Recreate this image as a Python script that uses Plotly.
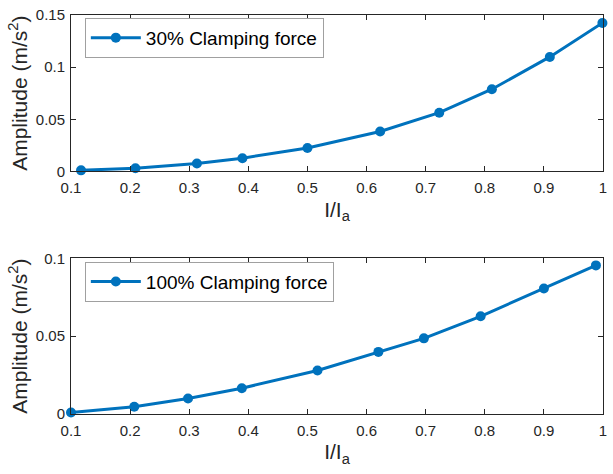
import plotly.graph_objects as go
from plotly.subplots import make_subplots

# Normalised current I/Ia and measured vibration amplitude (m/s^2)
ratio_30 = [0.117, 0.209, 0.313, 0.390, 0.500, 0.623, 0.723, 0.812, 0.910, 0.999]
amp_30 = [0.001, 0.0031, 0.0076, 0.0127, 0.0225, 0.0383, 0.0563, 0.0788, 0.1098, 0.1424]

ratio_100 = [0.100, 0.207, 0.298, 0.389, 0.517, 0.620, 0.697, 0.793, 0.900, 0.988]
amp_100 = [0.001, 0.0047, 0.0100, 0.0166, 0.0280, 0.0399, 0.0486, 0.0628, 0.0807, 0.0955]

series_names = ["30% Clamping force", "100% Clamping force"]
x_ticks = [0.1, 0.2, 0.3, 0.4, 0.5, 0.6, 0.7, 0.8, 0.9, 1.0]
x_tick_text = ["0.1", "0.2", "0.3", "0.4", "0.5", "0.6", "0.7", "0.8", "0.9", "1"]
y_ticks_top = [0, 0.05, 0.1, 0.15]
y_tick_text_top = ["0", "0.05", "0.1", "0.15"]
y_ticks_bottom = [0, 0.05, 0.1]
y_tick_text_bottom = ["0", "0.05", "0.1"]

BLUE = "#0072BD"
TXT = "#262626"
FONT = "Liberation Sans, Arial, sans-serif"

fig = make_subplots(rows=2, cols=1)

for row, (xs, ys, name) in enumerate(
    [(ratio_30, amp_30, series_names[0]), (ratio_100, amp_100, series_names[1])], start=1
):
    fig.add_trace(
        go.Scatter(
            x=xs, y=ys, name=name, mode="lines+markers",
            line=dict(color=BLUE, width=3),
            marker=dict(color=BLUE, size=10),
            cliponaxis=False,
            showlegend=True,
            legend="legend" if row == 1 else "legend2",
        ),
        row=row, col=1,
    )

axis_common = dict(
    showline=True, linecolor=TXT, linewidth=1, mirror="ticks",
    ticks="inside", ticklen=5, tickcolor=TXT, tickwidth=1,
    showgrid=False, zeroline=False,
    tickfont=dict(family=FONT, size=15, color=TXT),
)

fig.update_xaxes(
    range=[0.1, 1.0], tickvals=x_ticks, ticktext=x_tick_text,
    ticklabelstandoff=3,
    title=dict(text="I/I<sub>a</sub>", font=dict(family=FONT, size=21, color=TXT), standoff=6),
    **axis_common,
)
fig.update_yaxes(
    ticklabelstandoff=2,
    title=dict(text="Amplitude (m/s<sup>2</sup>)", font=dict(family=FONT, size=21, color=TXT), standoff=2),
    **axis_common,
)
fig.update_yaxes(range=[0, 0.15], tickvals=y_ticks_top, ticktext=y_tick_text_top, row=1, col=1)
fig.update_yaxes(range=[0, 0.1], tickvals=y_ticks_bottom, ticktext=y_tick_text_bottom, row=2, col=1)

legend_style = dict(
    xanchor="left", yanchor="top",
    bgcolor="white", bordercolor="#a0a0a0", borderwidth=1,
    font=dict(family=FONT, size=19, color="black"),
    tracegroupgap=0, itemwidth=50,
)

fig.update_layout(
    width=613, height=474,
    margin=dict(l=71, r=6, t=11, b=60),
    paper_bgcolor="white", plot_bgcolor="white",
    showlegend=True,
    xaxis=dict(domain=[0, 1]), xaxis2=dict(domain=[0, 1]),
    yaxis=dict(domain=[0.608, 1.0]), yaxis2=dict(domain=[0.0, 0.39]),
    legend=dict(x=0.026, y=0.993, **legend_style),
    legend2=dict(x=0.026, y=0.382, **legend_style),
)

fig.write_html("out.html")
